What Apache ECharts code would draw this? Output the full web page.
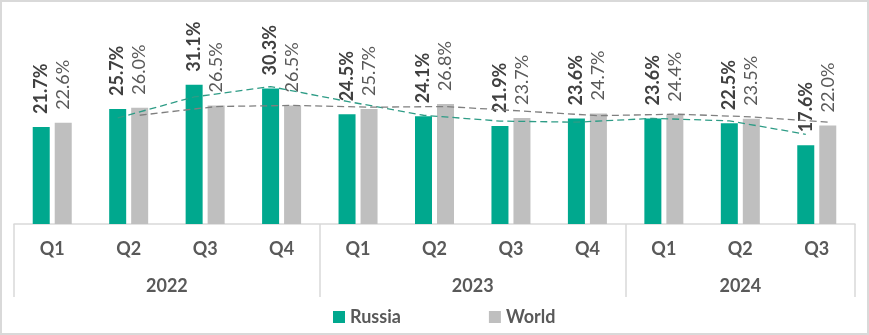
<!DOCTYPE html>
<html><head><meta charset="utf-8">
<script src="https://cdn.jsdelivr.net/npm/echarts@6/dist/echarts.min.js"></script>
<style>html,body{margin:0;padding:0;background:#fff}#c{width:869px;height:335px}</style>
</head><body><div id="c"></div>
<script>
var quarters = ['Q1','Q2','Q3','Q4','Q1','Q2','Q3','Q4','Q1','Q2','Q3'];
var years = ['2022','2023','2024'];
var yearLabelPos = [2, 6, 9.5];
var yearBounds = [0, 4, 8, 11];
var russia = [21.7, 25.7, 31.1, 30.3, 24.5, 24.1, 21.9, 23.6, 23.6, 22.5, 17.6];
var world  = [22.6, 26.0, 26.5, 26.5, 25.7, 26.8, 23.7, 24.7, 24.4, 23.5, 22.0];
var russiaTrend = [null, 23.7, 28.4, 30.7, 27.4, 24.3, 23.0, 22.75, 23.6, 23.05, 20.05];
var worldTrend  = [null, 24.3, 26.25, 26.5, 26.1, 26.25, 25.25, 24.2, 24.55, 23.95, 22.75];

var FONT = 'Lato, "Open Sans", sans-serif';
var GREEN = '#00A88E', GRAY = '#BFBFBF';
var BAR_W = 17, BAR_GAP = 5;

function trendSeries(name, vals, offset, color){
  return {
    type: 'custom', name: name, xAxisIndex: 0, yAxisIndex: 0, silent: true, z: 5,
    data: [[0, 0]],
    encode: {x: 0, y: 1},
    renderItem: function(params, api){
      var pts = [];
      vals.forEach(function(v, k){
        if (v == null) return;
        var p = api.coord([k, v]);
        pts.push([p[0] + offset, p[1]]);
      });
      return {type: 'polyline', shape: {points: pts},
        style: {stroke: color, lineWidth: 1.3, lineDash: [7, 4], fill: null}};
    }
  };
}

function barLabel(bold, color){
  return {show: true, position: [BAR_W / 2, -13], rotate: 90, align: 'left', verticalAlign: 'middle',
    formatter: function(p){ return p.value.toFixed(1) + '%'; },
    fontFamily: FONT, fontSize: 18, fontWeight: bold ? 'bold' : 'normal', color: color};
}

var chart = echarts.init(document.getElementById('c'));
chart.setOption({
  animation: false,
  graphic: [{type: 'rect', shape: {x: 1, y: 1, width: 867, height: 333},
    style: {fill: null, stroke: '#d9d9d9', lineWidth: 2}, silent: true}],
  grid: {left: 14, right: 14, top: 45, bottom: 111},
  legend: {
    data: ['Russia', 'World'], left: 328, top: 303, icon: 'rect',
    itemWidth: 12, itemHeight: 12, itemGap: 88,
    textStyle: {fontFamily: FONT, fontSize: 18, fontWeight: 'bold', color: '#595959'}
  },
  xAxis: [{
    type: 'category', data: quarters, position: 'bottom',
    axisLine: {lineStyle: {color: '#d9d9d9', width: 1.5}},
    axisTick: {show: false},
    axisLabel: {fontFamily: FONT, fontSize: 18, fontWeight: 'bold', color: '#595959', margin: 16}
  }, {
    type: 'value', min: 0, max: 11, position: 'bottom', gridIndex: 0,
    axisLine: {show: false}, splitLine: {show: false},
    axisTick: {show: true, customValues: yearBounds, length: 73, inside: false,
      lineStyle: {color: '#d9d9d9', width: 1.5}},
    axisLabel: {customValues: yearLabelPos, margin: 53,
      formatter: function(v){ return years[yearLabelPos.indexOf(v)]; },
      fontFamily: FONT, fontSize: 18, fontWeight: 'bold', color: '#595959'}
  }],
  yAxis: {type: 'value', min: 0, max: 40, show: false, splitLine: {show: false}},
  series: [{
    name: 'Russia', type: 'bar', data: russia, barWidth: BAR_W, barGap: (BAR_GAP / BAR_W * 100) + '%',
    itemStyle: {color: GREEN},
    label: barLabel(true, '#404040')
  }, {
    name: 'World', type: 'bar', data: world, barWidth: BAR_W,
    itemStyle: {color: GRAY},
    label: barLabel(false, '#595959')
  },
  trendSeries('RussiaTrend', russiaTrend, -(BAR_W + BAR_GAP) / 2, '#2E9C86'),
  trendSeries('WorldTrend', worldTrend, (BAR_W + BAR_GAP) / 2, '#7F7F7F')
  ]
});
</script></body></html>
